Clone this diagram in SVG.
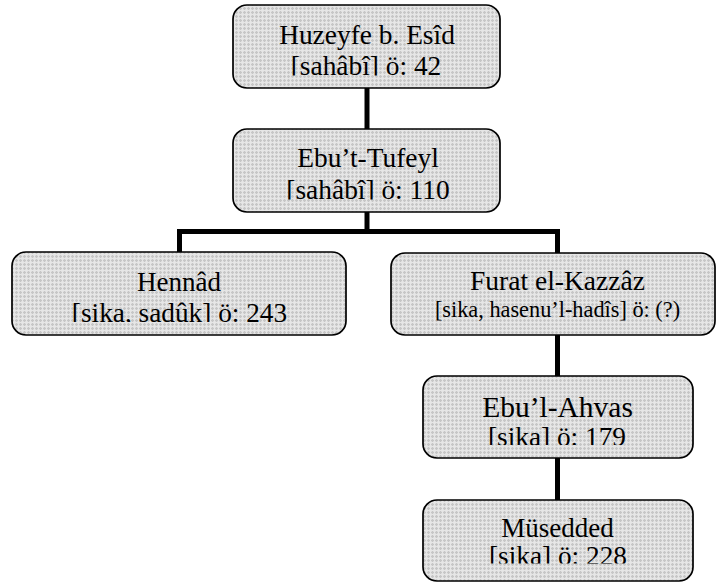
<svg xmlns="http://www.w3.org/2000/svg" width="716" height="582" viewBox="0 0 716 582">
<style>
.box{fill:url(#grid);stroke:#000;stroke-width:1.7}
.t{font-family:"Liberation Serif","Times New Roman",serif;fill:#000;text-anchor:middle}
.conn{fill:none;stroke:#000;stroke-width:5;stroke-linejoin:miter;stroke-linecap:butt}
</style>
<defs>
<pattern id="grid" patternUnits="userSpaceOnUse" width="8" height="8">
<rect width="8" height="8" fill="#dddddd"/>
<path d="M0 0.5H8M0 4.5H8M0.5 0V8M4.5 0V8" stroke="#c6c6c6" stroke-width="1"/>
<path d="M2.5 0V8M0 2.5H8M6.5 0V8M0 6.5H8" stroke="#e6e6e6" stroke-width="1"/>
</pattern>
<clipPath id="c1"><rect x="233" y="5" width="267" height="70.5"/></clipPath>
<clipPath id="c2"><rect x="233" y="129" width="267" height="70.5"/></clipPath>
<clipPath id="c3"><rect x="12" y="252" width="334" height="70"/></clipPath>
<clipPath id="c4"><rect x="391" y="253" width="324" height="75"/></clipPath>
<clipPath id="c5"><rect x="423" y="376" width="270" height="69"/></clipPath>
<clipPath id="c6"><rect x="423" y="500" width="270" height="63.5"/></clipPath>
</defs>
<rect width="716" height="582" fill="#fff"/>
<g id="connectors">
<path class="conn" d="M367 88V129"/>
<path class="conn" d="M367 212V231.5"/>
<path class="conn" d="M179.5 252V231.5H557.5V253"/>
<path class="conn" d="M557.5 335V376"/>
<path class="conn" d="M557.5 458V500"/>
</g>
<g id="huzeyfe">
<rect class="box" x="233" y="5" width="267" height="83" rx="14"/>
<g clip-path="url(#c1)">
<text class="t" x="367" y="44" font-size="27.4">Huzeyfe b. Esîd</text>
<text class="t" x="366" y="75" font-size="27.4">[sahâbî] ö: 42</text>
</g>
</g>
<g id="ebut-tufeyl">
<rect class="box" x="233" y="129" width="267" height="83" rx="14"/>
<g clip-path="url(#c2)">
<text class="t" x="368" y="167" font-size="27.4">Ebu’t-Tufeyl</text>
<text class="t" x="368" y="199" font-size="27.4">[sahâbî] ö: 110</text>
</g>
</g>
<g id="hennad">
<rect class="box" x="12" y="252" width="334" height="83" rx="14"/>
<g clip-path="url(#c3)">
<text class="t" x="179" y="291" font-size="27">Hennâd</text>
<text class="t" x="179.5" y="322" font-size="27.3">[sika, sadûk] ö: 243</text>
</g>
</g>
<g id="furat">
<rect class="box" x="391" y="253" width="324" height="82" rx="14"/>
<g clip-path="url(#c4)">
<text class="t" x="557.5" y="290" font-size="27.5">Furat el-Kazzâz</text>
<text class="t" x="557.5" y="317" font-size="22.3">[sika, hasenu’l-hadîs] ö: (?)</text>
</g>
</g>
<g id="ebul-ahvas">
<rect class="box" x="423" y="376" width="270" height="82" rx="14"/>
<g clip-path="url(#c5)">
<text class="t" x="557.5" y="417" font-size="29.5">Ebu’l-Ahvas</text>
<text class="t" x="557" y="446" font-size="27.3">[sika] ö: 179</text>
</g>
</g>
<g id="musedded">
<rect class="box" x="423" y="500" width="270" height="81" rx="14"/>
<g clip-path="url(#c6)">
<text class="t" x="557.5" y="537" font-size="27">Müsedded</text>
<text class="t" x="558" y="565" font-size="27.3">[sika] ö: 228</text>
</g>
</g>
</svg>
